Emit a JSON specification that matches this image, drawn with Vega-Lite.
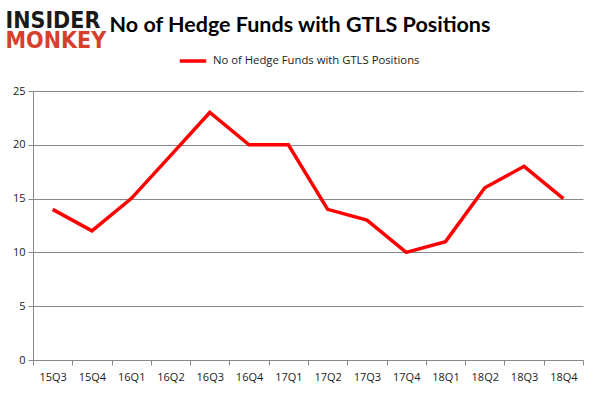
{
  "$schema": "https://vega.github.io/schema/vega-lite/v6.json",
  "width": 550,
  "height": 269,
  "autosize": {"type": "none"},
  "padding": {"left": 33, "top": 91, "right": 18, "bottom": 36},
  "background": "white",
  "title": {
    "text": "No of Hedge Funds with GTLS Positions",
    "font": "Lato",
    "fontSize": 21.5,
    "fontWeight": "bold",
    "color": "#000000",
    "anchor": "middle",
    "baseline": "bottom",
    "dx": -8,
    "offset": -49
  },
  "config": {
    "view": {"stroke": null},
    "axis": {"labelFont": "Open Sans", "labelFontSize": 11, "labelColor": "#1a1a1a", "domainColor": "#888888", "tickColor": "#888888", "gridColor": "#888888"},
    "legend": {"labelFont": "Open Sans", "labelFontSize": 11.3, "labelColor": "#1a1a1a", "labelLimit": 400}
  },
  "data": {
    "values": [
      {"q": "15Q3", "i": 0, "funds": 14},
      {"q": "15Q4", "i": 1, "funds": 12},
      {"q": "16Q1", "i": 2, "funds": 15},
      {"q": "16Q2", "i": 3, "funds": 19},
      {"q": "16Q3", "i": 4, "funds": 23},
      {"q": "16Q4", "i": 5, "funds": 20},
      {"q": "17Q1", "i": 6, "funds": 20},
      {"q": "17Q2", "i": 7, "funds": 14},
      {"q": "17Q3", "i": 8, "funds": 13},
      {"q": "17Q4", "i": 9, "funds": 10},
      {"q": "18Q1", "i": 10, "funds": 11},
      {"q": "18Q2", "i": 11, "funds": 16},
      {"q": "18Q3", "i": 12, "funds": 18},
      {"q": "18Q4", "i": 13, "funds": 15}
    ]
  },
  "layer": [
    {
      "mark": {"type": "line", "strokeOpacity": 0},
      "encoding": {
        "x": {
          "field": "i", "type": "quantitative",
          "scale": {"domain": [-0.5, 13.5], "nice": false, "zero": false},
          "axis": {
            "orient": "bottom",
            "values": [-0.5,0.5,1.5,2.5,3.5,4.5,5.5,6.5,7.5,8.5,9.5,10.5,11.5,12.5,13.5],
            "labels": false, "ticks": true, "tickSize": 5, "grid": false, "domain": true,
            "title": "MONKEY", "titleAlign": "left", "titleBaseline": "alphabetic",
            "titleX": -28, "titleY": -313, "titleFont": "DejaVu Sans Condensed", "titleFontSize": 23, "titleFontWeight": "bold", "titleColor": "#d6402a"
          }
        }
      }
    },
    {
      "mark": {"type": "line", "strokeWidth": 3.5, "strokeJoin": "miter"},
      "encoding": {
        "x": {
          "field": "i", "type": "quantitative",
          "axis": {
            "orient": "bottom",
            "values": [0,1,2,3,4,5,6,7,8,9,10,11,12,13],
            "labelExpr": "['15Q3','15Q4','16Q1','16Q2','16Q3','16Q4','17Q1','17Q2','17Q3','17Q4','18Q1','18Q2','18Q3','18Q4'][datum.value]",
            "ticks": false, "tickSize": 0, "labelPadding": 11, "grid": false, "domain": false, "title": null
          }
        },
        "y": {
          "field": "funds", "type": "quantitative",
          "scale": {"domain": [0, 25], "nice": false},
          "axis": {
            "values": [0, 5, 10, 15, 20, 25],
            "grid": true, "tickSize": 5, "labelPadding": 3,
            "title": "INSIDER", "titleAngle": 0, "titleAlign": "left", "titleBaseline": "alphabetic",
            "titleX": -28, "titleY": -64, "titleFont": "DejaVu Sans Condensed", "titleFontSize": 23, "titleFontWeight": "bold", "titleColor": "#1a1a1a"
          }
        },
        "color": {
          "datum": "No of Hedge Funds with GTLS Positions",
          "scale": {"range": ["#ff0000"]},
          "legend": {"orient": "none", "legendX": 145, "legendY": -45, "title": null, "symbolType": "stroke", "symbolStrokeWidth": 3.5, "symbolSize": 700, "labelOffset": 5}
        }
      }
    }
  ],
  "resolve": {"axis": {"x": "independent"}}
}
